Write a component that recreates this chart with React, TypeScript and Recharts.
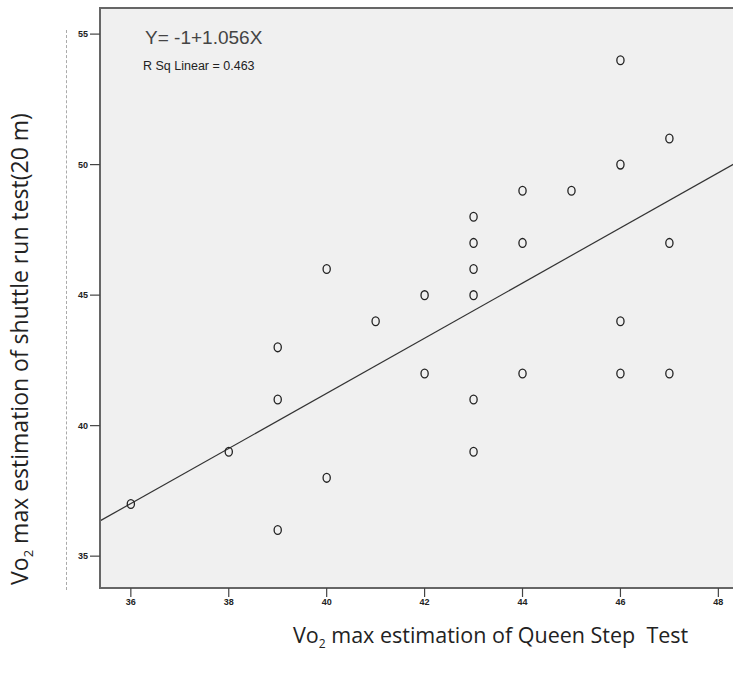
import React from 'react';
import { ScatterChart, Scatter, XAxis, YAxis, ReferenceArea, ReferenceLine } from 'recharts';

// Queen Step Test (x) vs 20 m shuttle run (y)
const queenStep = [36, 38, 39, 39, 39, 40, 40, 41, 42, 42, 43, 43, 43, 43, 43, 43, 44, 44, 44, 45, 46, 46, 46, 46, 47, 47, 47];
const shuttleRun = [37, 39, 41, 43, 36, 46, 38, 44, 45, 42, 48, 47, 46, 45, 41, 39, 49, 47, 42, 49, 54, 50, 44, 42, 51, 47, 42];

const xTicks = [36, 38, 40, 42, 44, 46, 48];
const yTicks = [35, 40, 45, 50, 55];

const intercept = -1;
const slope = 1.056;
const rSquared = 0.463;

const xDomain: [number, number] = [35.37, 48.34];
const yDomain: [number, number] = [33.78, 56];

const points = queenStep.map((x, i) => ({ x, y: shuttleRun[i] }));
const fitLine = xDomain.map((x) => ({ x, y: intercept + slope * x }));

const OpenCircle = (props: any) => {
  const { cx, cy } = props;
  return <ellipse cx={cx} cy={cy} rx={3.6} ry={4.4} fill="none" stroke="#222" strokeWidth={1.3} />;
};

const tickStyle = { fontSize: 9, fill: '#222', fontFamily: 'Liberation Sans, Arial, sans-serif', fontWeight: 'bold' as const };
const labelFont = '"Open Sans", "Liberation Sans", sans-serif';

export default function App() {
  return (
    <div style={{ position: 'absolute', left: 0, top: 0, width: 733, height: 678, background: '#fff', overflow: 'hidden' }}>
      <ScatterChart width={735} height={678} margin={{ top: 8, right: 0, bottom: 0, left: 0 }}>
        <ReferenceArea
          x1={xDomain[0]}
          x2={xDomain[1]}
          y1={yDomain[0]}
          y2={yDomain[1]}
          fill="#f0f0f0"
          fillOpacity={1}
          stroke="#666"
          strokeWidth={2}
        />
        <XAxis
          type="number"
          dataKey="x"
          domain={xDomain}
          ticks={xTicks}
          allowDataOverflow
          height={90}
          tick={tickStyle}
          tickLine={{ stroke: '#444', strokeWidth: 1.2 }}
          tickSize={9}
          axisLine={{ stroke: '#666', strokeWidth: 2 }}
        />
        <YAxis
          type="number"
          dataKey="y"
          domain={yDomain}
          ticks={yTicks}
          allowDataOverflow
          width={100}
          tick={tickStyle}
          tickLine={{ stroke: '#444', strokeWidth: 1.2 }}
          tickSize={10}
          axisLine={{ stroke: '#666', strokeWidth: 2 }}
        />
        <ReferenceLine segment={fitLine} stroke="#333" strokeWidth={1.2} />
        <Scatter data={points} shape={OpenCircle} isAnimationActive={false} />
      </ScatterChart>

      {/* faint dashed trace left of the y axis */}
      <div style={{ position: 'absolute', left: 66, top: 30, height: 560, borderLeft: '1px dashed #aaa' }} />

      <div style={{ position: 'absolute', left: 145, top: 27, fontSize: 19, color: '#444', fontFamily: 'Liberation Sans, Arial, sans-serif', whiteSpace: 'nowrap' }}>
        Y= {intercept}+{slope}X
      </div>
      <div style={{ position: 'absolute', left: 143, top: 59, fontSize: 12.5, color: '#222', fontFamily: '"Liberation Sans Narrow", "Liberation Sans", Arial, sans-serif', whiteSpace: 'nowrap' }}>
        R Sq Linear = {rSquared}
      </div>

      <div style={{ position: 'absolute', left: 293, top: 620, fontSize: 21.5, color: '#222', fontFamily: labelFont, whiteSpace: 'pre' }}>
        Vo<sub style={{ fontSize: 12 }}>2</sub> max estimation of Queen Step  Test
      </div>
      <div
        style={{
          position: 'absolute',
          left: 20,
          top: 349,
          transform: 'translate(-50%, -50%) rotate(-90deg)',
          fontSize: 23,
          color: '#222',
          fontFamily: labelFont,
          whiteSpace: 'nowrap',
        }}
      >
        Vo<sub style={{ fontSize: 13 }}>2</sub> max estimation of shuttle run test(20 m)
      </div>
    </div>
  );
}
